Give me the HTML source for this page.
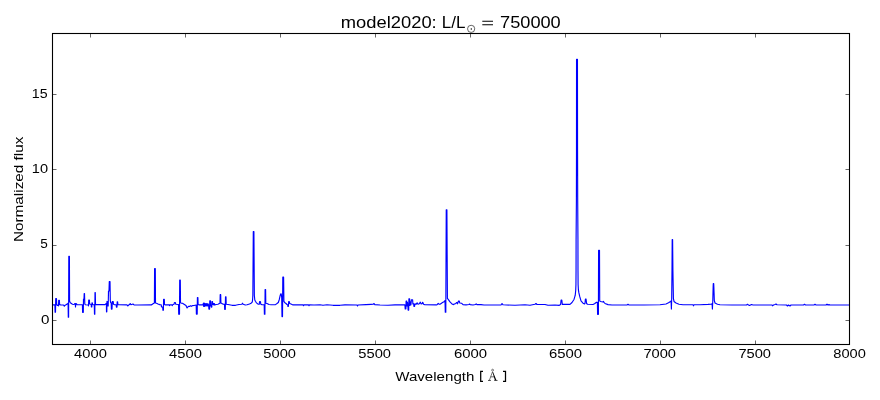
<!DOCTYPE html>
<html><head><meta charset="utf-8"><title>model2020</title>
<style>
html,body{margin:0;padding:0;background:#fff;}
body{width:880px;height:400px;overflow:hidden;font-family:"Liberation Sans",sans-serif;}
svg{display:block;}
text{font-family:"Liberation Sans",sans-serif;fill:#000;}
.tk line{stroke:#000;stroke-width:0.6;}
.tx{filter:grayscale(1);}
</style></head>
<body>
<svg width="880" height="400" viewBox="0 0 880 400">
<rect x="0" y="0" width="880" height="400" fill="#ffffff"/>
<polyline fill="none" stroke="#0000ff" stroke-width="1.15" stroke-linejoin="round" stroke-linecap="butt" points="52.50,304.80 54.90,304.80 55.10,312.15 55.50,312.15 55.70,298.65 56.50,298.65 56.70,304.80 57.30,305.50 58.30,304.80 58.50,306.00 58.70,300.25 59.40,300.25 59.60,304.60 61.00,305.00 63.50,305.00 64.30,306.20 65.00,305.30 66.00,304.80 67.50,303.80 68.10,303.30 68.30,317.25 68.60,317.25 68.80,256.35 69.40,256.35 69.60,301.45 70.20,302.30 71.00,303.30 72.50,304.30 74.00,304.50 74.80,303.50 75.30,303.80 75.50,307.00 75.80,303.50 76.50,303.80 77.00,304.70 82.40,304.80 82.60,312.35 83.30,312.35 83.50,298.95 84.00,298.95 84.20,293.45 84.50,293.45 84.80,304.00 85.30,304.80 88.30,305.00 88.50,306.00 88.70,299.95 89.40,299.95 89.60,304.00 90.50,304.20 91.20,304.50 91.40,307.00 91.80,307.00 92.00,302.80 92.30,302.80 92.60,304.50 93.50,304.70 94.30,304.70 94.50,314.25 94.80,314.25 95.00,292.45 95.30,292.45 95.50,304.50 96.00,304.60 105.00,304.60 106.00,303.80 106.40,303.30 106.50,311.85 106.80,311.85 107.00,301.45 107.40,306.00 107.80,301.45 108.20,306.00 108.50,290.95 109.00,290.95 109.30,281.45 110.00,281.45 110.30,300.45 110.60,302.50 111.20,303.00 111.40,309.05 112.00,309.05 112.30,301.55 113.20,301.55 113.50,304.30 114.50,304.70 116.20,304.80 116.40,307.05 117.00,307.05 117.20,301.85 117.60,301.85 117.90,304.60 119.00,304.80 127.00,304.90 127.80,306.00 128.40,305.30 129.50,304.60 130.20,303.50 131.00,304.70 133.00,304.00 134.00,304.90 138.00,305.00 151.30,304.90 153.40,303.50 154.40,303.00 154.60,268.65 155.30,268.65 155.50,303.00 156.50,303.30 158.00,304.00 159.70,304.60 161.20,304.80 161.50,306.95 162.70,306.95 162.90,310.25 163.40,310.25 163.60,299.35 164.30,299.35 164.50,304.50 165.50,304.90 169.20,304.90 169.50,305.60 169.80,304.90 172.00,304.90 172.30,305.60 172.60,304.80 174.00,304.30 174.40,302.55 175.40,302.55 175.80,304.30 178.50,304.50 178.70,314.25 179.50,314.25 179.70,280.15 180.30,280.15 180.50,302.50 181.10,303.20 182.50,303.20 184.00,304.20 186.00,305.50 186.60,307.00 187.10,307.95 187.80,307.00 188.50,306.30 189.50,306.50 190.50,305.80 191.50,306.30 192.50,305.60 194.00,305.50 196.20,305.00 196.40,314.05 197.20,314.05 197.40,297.45 197.90,297.45 198.10,304.60 199.00,304.80 203.00,304.80 203.40,303.00 203.70,306.50 204.20,303.00 204.60,306.50 205.00,303.50 205.50,306.00 206.00,303.50 206.50,306.00 207.00,303.50 207.50,306.00 208.00,303.80 208.60,305.00 208.90,309.05 209.60,309.05 209.80,300.75 210.50,300.75 210.70,305.00 211.30,307.05 211.80,307.05 212.00,301.45 212.50,301.45 212.80,304.50 213.30,303.50 213.80,305.00 214.30,303.50 214.80,305.00 216.00,304.50 218.00,304.20 219.30,303.50 220.00,303.20 220.20,294.65 220.70,294.65 220.90,303.00 222.00,303.60 223.50,304.20 224.50,304.40 224.70,309.35 225.30,309.35 225.50,296.75 226.00,296.75 226.20,304.20 228.00,304.50 232.00,305.30 235.50,305.30 239.00,304.50 241.80,304.30 242.50,303.20 243.20,304.30 245.30,305.00 247.00,304.80 249.50,304.00 251.00,303.20 251.80,302.50 252.30,301.95 252.60,299.45 252.85,295.45 253.30,231.45 253.90,231.45 254.35,295.45 254.80,299.95 255.40,301.25 256.50,302.80 258.00,304.20 259.20,304.30 259.60,301.55 260.40,301.55 260.80,304.20 262.00,304.70 264.20,304.70 264.40,314.25 264.90,314.25 265.10,289.45 265.60,289.45 265.80,303.20 267.00,303.50 269.00,304.50 271.00,304.70 275.50,304.60 277.00,303.50 278.30,302.45 279.30,299.45 280.20,295.45 280.70,293.85 281.20,293.85 281.70,297.45 282.00,316.55 282.50,316.55 282.80,277.15 283.60,277.15 283.90,301.45 284.60,302.45 286.00,303.50 287.00,304.50 287.70,304.80 287.90,306.30 288.40,306.30 288.70,301.65 289.30,301.65 289.70,303.50 291.00,304.00 293.00,304.90 303.00,304.90 303.50,305.70 304.00,304.90 308.50,304.90 309.00,305.70 309.50,304.90 314.00,305.00 320.00,304.80 323.00,305.30 327.00,304.80 333.00,305.30 340.00,305.30 345.00,304.90 357.00,305.00 357.50,306.00 358.00,305.00 366.00,304.60 371.00,304.40 373.20,304.30 374.00,303.50 374.80,304.60 380.00,305.00 388.00,305.20 395.00,304.90 402.00,304.90 404.90,304.90 405.20,308.85 405.90,308.85 406.10,301.15 406.80,301.15 407.00,306.00 407.50,302.50 407.90,306.00 408.10,310.05 408.70,310.05 408.90,298.75 409.60,298.75 409.90,305.50 410.40,301.95 410.90,305.00 411.40,299.75 412.60,299.75 412.90,304.00 413.70,303.80 413.90,306.30 414.60,306.30 414.90,303.80 416.00,304.30 417.10,302.80 418.00,304.30 419.30,303.80 420.30,302.15 421.20,304.00 422.00,303.80 422.70,302.30 423.60,304.30 424.80,304.80 436.40,304.90 437.40,304.40 438.20,303.40 439.20,304.30 440.00,304.20 441.50,303.20 442.50,302.60 444.00,301.75 445.00,300.65 445.30,312.15 445.80,312.15 446.25,209.75 446.90,209.75 447.40,298.45 448.20,299.45 450.00,301.95 451.70,303.70 453.10,304.60 454.50,304.00 455.80,303.50 456.50,302.45 457.00,302.45 457.50,303.80 458.00,302.50 458.50,300.95 459.20,300.95 459.80,303.00 461.50,303.20 463.00,304.70 466.00,304.90 469.00,304.50 469.60,304.00 470.20,304.60 473.00,305.00 475.50,304.50 476.20,303.80 477.00,304.60 481.00,304.60 484.00,305.00 490.00,305.00 501.00,305.00 502.00,303.50 503.00,304.80 515.00,305.30 525.00,304.80 530.00,305.30 535.00,304.30 536.00,303.50 537.00,304.50 545.00,304.50 548.00,305.30 555.00,305.00 559.00,305.40 560.60,304.50 561.10,299.95 561.80,299.95 562.30,304.40 570.00,304.40 572.00,302.50 574.00,299.45 575.20,295.45 575.70,290.45 575.95,284.45 576.05,270.45 576.10,240.45 576.40,200.45 576.50,150.45 576.55,59.25 577.45,59.25 577.55,150.45 577.70,200.45 577.95,240.45 578.00,270.45 578.10,284.45 578.40,289.95 578.90,292.95 579.70,296.45 581.00,300.95 583.00,303.20 584.60,304.00 585.00,303.50 585.40,298.95 586.00,298.95 586.60,303.50 587.50,304.30 593.00,304.50 594.50,303.80 596.50,302.30 597.40,302.25 597.60,314.35 598.40,314.35 598.60,250.35 599.50,250.35 599.70,300.95 600.50,301.45 603.00,302.05 603.50,301.45 604.00,302.25 605.00,303.50 608.00,304.60 612.00,305.00 627.00,305.00 628.00,304.30 629.00,305.00 644.00,305.00 660.00,304.80 666.00,304.00 668.50,302.80 670.50,301.45 671.10,300.95 671.40,309.05 671.70,298.45 672.00,270.45 672.20,239.65 672.60,239.65 672.90,270.45 673.40,298.45 674.00,301.45 676.00,303.00 679.00,304.20 683.00,304.70 693.00,304.80 693.50,305.80 694.00,304.80 700.00,304.70 708.00,304.40 711.00,304.20 712.10,303.80 712.40,309.05 712.80,300.45 713.00,292.45 713.15,286.95 713.30,283.45 713.70,283.45 713.85,286.95 714.05,292.45 714.30,300.45 715.00,303.00 717.50,304.30 720.00,304.80 732.00,305.00 746.50,305.00 747.50,304.30 748.50,305.00 749.50,305.50 751.50,304.50 753.00,305.00 772.00,305.00 772.50,305.80 773.50,305.00 775.00,304.50 776.00,304.00 777.00,304.80 786.50,305.00 787.50,306.00 788.50,305.00 790.00,306.00 791.00,305.00 803.50,305.00 804.50,304.30 805.50,305.00 814.00,305.00 815.00,304.30 816.00,305.00 826.00,305.00 827.00,304.20 828.00,305.00 829.00,304.60 830.00,305.00 849.50,305.00"/>
<rect x="52.5" y="33.5" width="797.0" height="311.0" fill="none" stroke="#000" stroke-width="1.1"/>
<g class="tk">
<line x1="90.50" y1="344.50" x2="90.50" y2="340.50"/>
<line x1="90.50" y1="33.50" x2="90.50" y2="37.50"/>
<line x1="185.50" y1="344.50" x2="185.50" y2="340.50"/>
<line x1="185.50" y1="33.50" x2="185.50" y2="37.50"/>
<line x1="280.50" y1="344.50" x2="280.50" y2="340.50"/>
<line x1="280.50" y1="33.50" x2="280.50" y2="37.50"/>
<line x1="375.50" y1="344.50" x2="375.50" y2="340.50"/>
<line x1="375.50" y1="33.50" x2="375.50" y2="37.50"/>
<line x1="470.50" y1="344.50" x2="470.50" y2="340.50"/>
<line x1="470.50" y1="33.50" x2="470.50" y2="37.50"/>
<line x1="565.50" y1="344.50" x2="565.50" y2="340.50"/>
<line x1="565.50" y1="33.50" x2="565.50" y2="37.50"/>
<line x1="660.50" y1="344.50" x2="660.50" y2="340.50"/>
<line x1="660.50" y1="33.50" x2="660.50" y2="37.50"/>
<line x1="755.50" y1="344.50" x2="755.50" y2="340.50"/>
<line x1="755.50" y1="33.50" x2="755.50" y2="37.50"/>
<line x1="52.50" y1="320.50" x2="56.50" y2="320.50"/>
<line x1="849.50" y1="320.50" x2="845.50" y2="320.50"/>
<line x1="52.50" y1="245.50" x2="56.50" y2="245.50"/>
<line x1="849.50" y1="245.50" x2="845.50" y2="245.50"/>
<line x1="52.50" y1="169.50" x2="56.50" y2="169.50"/>
<line x1="849.50" y1="169.50" x2="845.50" y2="169.50"/>
<line x1="52.50" y1="94.50" x2="56.50" y2="94.50"/>
<line x1="849.50" y1="94.50" x2="845.50" y2="94.50"/>
</g>
<g class="tx">
<text transform="translate(340.83,27.90) scale(1.1261,1.0000)" style="font-family:'Liberation Sans';font-size:16.30px">model2020:</text>
<text transform="translate(441.82,27.90) scale(1.0434,1.0000)" style="font-family:'Liberation Sans';font-size:16.30px">L/L</text>
<text transform="translate(500.02,27.90) scale(1.1177,1.0000)" style="font-family:'Liberation Sans';font-size:16.30px">750000</text>
<text transform="translate(31.85,98.05) scale(1.0920,1.0000)" style="font-family:'Liberation Sans';font-size:13.00px">15</text>
<text transform="translate(31.82,173.10) scale(1.1208,1.0000)" style="font-family:'Liberation Sans';font-size:13.00px">10</text>
<text transform="translate(40.28,248.10) scale(1.0449,1.0000)" style="font-family:'Liberation Sans';font-size:13.00px">5</text>
<text transform="translate(41.09,323.90) scale(1.1648,1.0000)" style="font-family:'Liberation Sans';font-size:13.00px">0</text>
<text transform="translate(395.25,380.60) scale(1.1613,1.0000)" style="font-family:'Liberation Sans';font-size:13.00px">Wavelength</text>
<text transform="translate(74.12,358.00) scale(1.1342,1.0000)" style="font-family:'Liberation Sans';font-size:13.00px">4000</text>
<text transform="translate(169.12,358.00) scale(1.1364,1.0000)" style="font-family:'Liberation Sans';font-size:13.00px">4500</text>
<text transform="translate(263.33,358.00) scale(1.1300,1.0000)" style="font-family:'Liberation Sans';font-size:13.00px">5000</text>
<text transform="translate(358.33,358.00) scale(1.1300,1.0000)" style="font-family:'Liberation Sans';font-size:13.00px">5500</text>
<text transform="translate(453.88,358.00) scale(1.1459,1.0000)" style="font-family:'Liberation Sans';font-size:13.00px">6000</text>
<text transform="translate(548.88,358.00) scale(1.1445,1.0000)" style="font-family:'Liberation Sans';font-size:13.00px">6500</text>
<text transform="translate(643.40,358.00) scale(1.1279,1.0000)" style="font-family:'Liberation Sans';font-size:13.00px">7000</text>
<text transform="translate(738.40,358.00) scale(1.1279,1.0000)" style="font-family:'Liberation Sans';font-size:13.00px">7500</text>
<text transform="translate(833.30,358.00) scale(1.1261,1.0000)" style="font-family:'Liberation Sans';font-size:13.00px">8000</text>
<text transform="translate(23.1,242.03) rotate(-90) scale(1.1779,1)" style="font-family:'Liberation Sans';font-size:13.00px">Normalized flux</text>
<path d="M483.0,371.3 H480.7 V381.35 H483.0 M503.0,371.3 H505.5 V381.35 H503.0" fill="none" stroke="#000" stroke-width="1.25" stroke-linejoin="miter"/>
<g stroke="#000" fill="none">
<path d="M489.35,380.3 L492.45,372.0" stroke-width="0.55"/>
<path d="M492.3,371.7 L492.95,371.7 L496.4,380.3 L494.9,380.3 Z" fill="#000" stroke="none"/>
<path d="M490.7,376.85 H494.4" stroke-width="0.6"/>
<path d="M488.0,380.45 H490.9 M494.2,380.45 H497.5" stroke-width="0.7"/>
<circle cx="492.6" cy="370.15" r="0.95" stroke-width="0.5"/>
</g>
<path d="M482.3,21.3 H493.0 M482.3,24.8 H493.0" fill="none" stroke="#000" stroke-width="1.05"/>
<circle cx="471.15" cy="28.85" r="3.6" fill="none" stroke="#000" stroke-width="0.6"/>
<circle cx="471.3" cy="29.05" r="0.7" fill="#000"/>
</g>
</svg>
</body></html>
